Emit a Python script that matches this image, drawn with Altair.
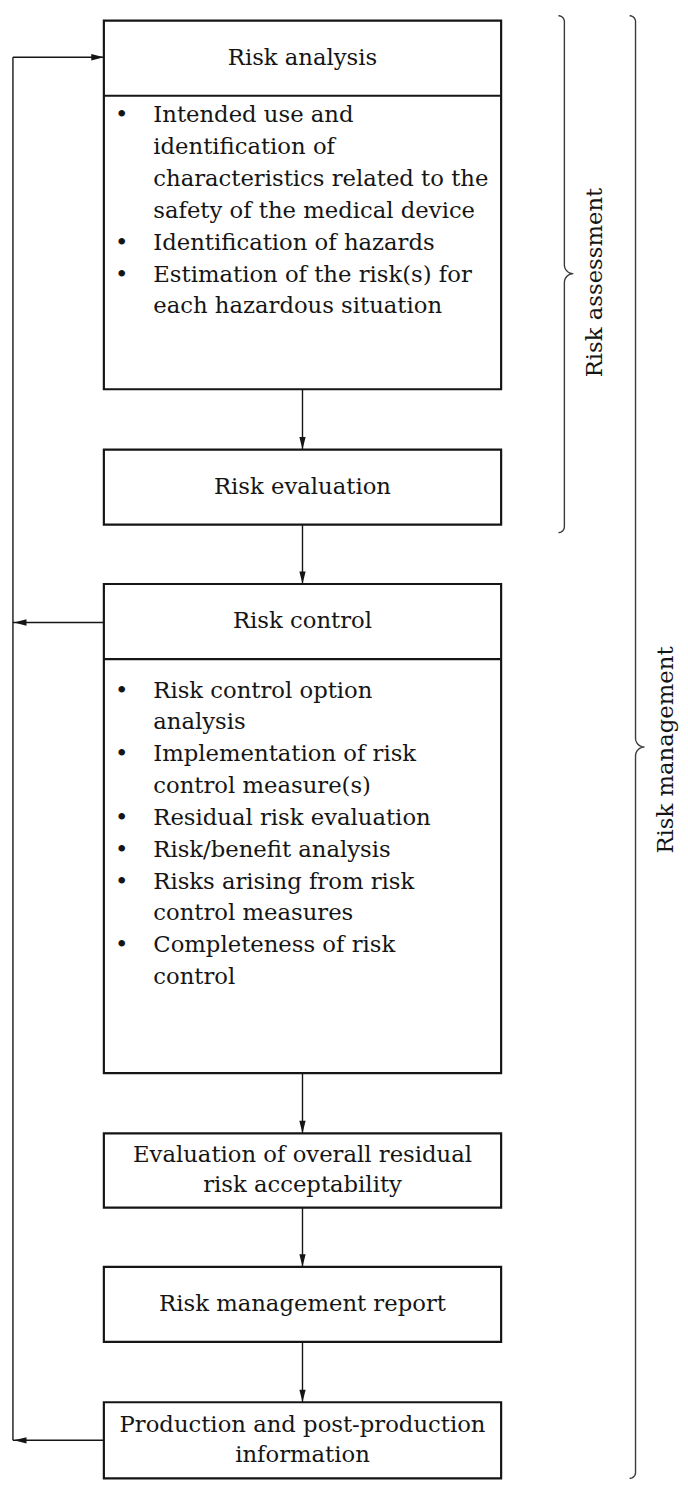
import altair as alt
import pandas as pd
import numpy as np

# ---------------- content ----------------
box_titles = [
    ["Risk analysis"],
    ["Risk evaluation"],
    ["Risk control"],
    ["Evaluation of overall residual", "risk acceptability"],
    ["Risk management report"],
    ["Production and post-production", "information"],
]
analysis_items = [
    ["Intended use and", "identification of", "characteristics related to the",
     "safety of the medical device"],
    ["Identification of hazards"],
    ["Estimation of the risk(s) for", "each hazardous situation"],
]
control_items = [
    ["Risk control option", "analysis"],
    ["Implementation of risk", "control measure(s)"],
    ["Residual risk evaluation"],
    ["Risk/benefit analysis"],
    ["Risks arising from risk", "control measures"],
    ["Completeness of risk", "control"],
]
brace_labels = ["Risk assessment", "Risk management"]

# ---------------- layout (page pixels) ----------------
W, H = 680, 1482
BOX_L, BOX_R = 105, 507
CX = (BOX_L + BOX_R) / 2
box_top = [12, 446, 582, 1138, 1273, 1410]
box_bot = [385, 522, 1077, 1213, 1349, 1487]
header_h = [76, None, 76, None, None, None]
body_first = {0: 108, 2: 690}
body_items = {0: analysis_items, 2: control_items}
LINE = 32.2
BULLET_X, TEXT_X = 123, 155
FEED_X = 13
FONT = "DejaVu Serif"
FS = 23
INK = "#151515"

# boxes
boxes = pd.DataFrame({"x": BOX_L, "x2": BOX_R, "y": box_top, "y2": box_bot})

# header dividers
divs = pd.DataFrame([
    {"x": BOX_L, "x2": BOX_R, "y": box_top[i] + header_h[i], "y2": box_top[i] + header_h[i]}
    for i in range(len(box_top)) if header_h[i]
])

# titles
title_rows = []
for i, lines in enumerate(box_titles):
    if header_h[i]:
        c = box_top[i] + header_h[i] / 2
    else:
        c = (box_top[i] + box_bot[i]) / 2
    n = len(lines)
    for k, t in enumerate(lines):
        title_rows.append({"x": CX, "y": c + (k - (n - 1) / 2) * 30.5, "t": t})
titles = pd.DataFrame(title_rows)

# bullet bodies
body_rows, bullet_rows = [], []
for i, items in body_items.items():
    y = body_first[i]
    for item in items:
        bullet_rows.append({"x": BULLET_X, "y": y, "t": "\u2022"})
        for ln in item:
            body_rows.append({"x": TEXT_X, "y": y, "t": ln})
            y += LINE
bodies = pd.DataFrame(body_rows)
bullets = pd.DataFrame(bullet_rows)

# connectors (vertical arrows between boxes)
conn = pd.DataFrame([
    {"x": CX, "x2": CX, "y": box_bot[i], "y2": box_top[i + 1]}
    for i in range(len(box_top) - 1)
])
down_heads = pd.DataFrame([{"x": CX, "y": box_top[i + 1]} for i in range(len(box_top) - 1)])

# feedback loop
y_top_arrow = box_top[0] + header_h[0] / 2 - 1
y_rc_arrow = box_top[2] + header_h[2] / 2 + 1
y_prod_arrow = (box_top[5] + box_bot[5]) / 2
feed = pd.DataFrame([
    {"x": FEED_X, "x2": FEED_X, "y": y_top_arrow, "y2": y_prod_arrow},
    {"x": FEED_X, "x2": BOX_L, "y": y_top_arrow, "y2": y_top_arrow},
    {"x": FEED_X, "x2": BOX_L, "y": y_rc_arrow, "y2": y_rc_arrow},
    {"x": FEED_X, "x2": BOX_L, "y": y_prod_arrow, "y2": y_prod_arrow},
])
right_heads = pd.DataFrame([{"x": BOX_L, "y": y_top_arrow}])
left_heads = pd.DataFrame([{"x": FEED_X + 1, "y": y_rc_arrow}, {"x": FEED_X + 1, "y": y_prod_arrow}])


# braces
def brace(X, y0, y1, ym, hook=6, tipr=9, n=12):
    pts = []
    th = np.linspace(-np.pi / 2, 0, n)
    pts += [(X - hook + hook * np.cos(t), y0 + hook + hook * np.sin(t)) for t in th]
    th = np.linspace(np.pi, np.pi / 2, n)
    pts += [(X + tipr + tipr * np.cos(t), ym - tipr + tipr * np.sin(t)) for t in th]
    th = np.linspace(-np.pi / 2, -np.pi, n)
    pts += [(X + tipr + tipr * np.cos(t), ym + tipr + tipr * np.sin(t)) for t in th]
    th = np.linspace(0, np.pi / 2, n)
    pts += [(X - hook + hook * np.cos(t), y1 - hook + hook * np.sin(t)) for t in th]
    return pts


brace_specs = [(571, 7, 530, 268), (643, 7, 1487, 747)]
br_rows = []
for b, (X, y0, y1, ym) in enumerate(brace_specs):
    for j, (px, py) in enumerate(brace(X, y0, y1, ym)):
        br_rows.append({"b": b, "i": j, "x": px, "y": py})
braces = pd.DataFrame(br_rows)
brace_text = pd.DataFrame([
    {"x": 602, "y": 277, "t": brace_labels[0]},
    {"x": 674, "y": 750, "t": brace_labels[1]},
])

# ---------------- chart ----------------
xs = alt.Scale(domain=[8, 8 + W], nice=False, zero=False)
ys = alt.Scale(domain=[8, 8 + H], nice=False, zero=False, reverse=True)
X = lambda f="x": alt.X(f, type="quantitative", scale=xs, axis=None)
Y = lambda f="y": alt.Y(f, type="quantitative", scale=ys, axis=None)

rects = alt.Chart(boxes).mark_rect(fill="white", stroke=INK, strokeWidth=2.2).encode(
    x=X(), x2="x2", y=Y(), y2="y2")
divider = alt.Chart(divs).mark_rule(color=INK, strokeWidth=2.2).encode(
    x=X(), x2="x2", y=Y(), y2="y2")
arrows = alt.Chart(conn).mark_rule(color=INK, strokeWidth=1.4).encode(
    x=X(), x2="x2", y=Y(), y2="y2")
feedback = alt.Chart(feed).mark_rule(color=INK, strokeWidth=1.4).encode(
    x=X(), x2="x2", y=Y(), y2="y2")
head_down = alt.Chart(down_heads).mark_point(
    shape="M0,0L-0.45,-1.8L0.45,-1.8Z", size=200, filled=True, color=INK, opacity=1, strokeWidth=0
).encode(x=X(), y=Y())
head_right = alt.Chart(right_heads).mark_point(
    shape="M0,0L-1.8,-0.45L-1.8,0.45Z", size=200, filled=True, color=INK, opacity=1, strokeWidth=0
).encode(x=X(), y=Y())
head_left = alt.Chart(left_heads).mark_point(
    shape="M0,0L1.8,-0.45L1.8,0.45Z", size=200, filled=True, color=INK, opacity=1, strokeWidth=0
).encode(x=X(), y=Y())
title_txt = alt.Chart(titles).mark_text(
    font=FONT, fontSize=FS, align="center", baseline="middle", color=INK
).encode(x=X(), y=Y(), text="t:N")
body_txt = alt.Chart(bodies).mark_text(
    font=FONT, fontSize=FS, align="left", baseline="middle", color=INK
).encode(x=X(), y=Y(), text="t:N")
bullet_txt = alt.Chart(bullets).mark_text(
    font=FONT, fontSize=FS, align="center", baseline="middle", color=INK
).encode(x=X(), y=Y(), text="t:N")
brace_lines = alt.Chart(braces).mark_line(color="#3a3a3a", strokeWidth=1.4).encode(
    x=X(), y=Y(), detail="b:N", order="i:Q")
brace_lbl = alt.Chart(brace_text).mark_text(
    font=FONT, fontSize=FS, align="center", baseline="middle", angle=270, color=INK
).encode(x=X(), y=Y(), text="t:N")

chart = alt.layer(
    arrows, feedback, rects, divider, head_down, head_right, head_left,
    title_txt, body_txt, bullet_txt, brace_lines, brace_lbl
).properties(
    width=W, height=H, padding=0, autosize="none", background="white"
).configure_view(stroke=None)

chart.save("out.html", embed_options={"renderer": "svg", "actions": False})
